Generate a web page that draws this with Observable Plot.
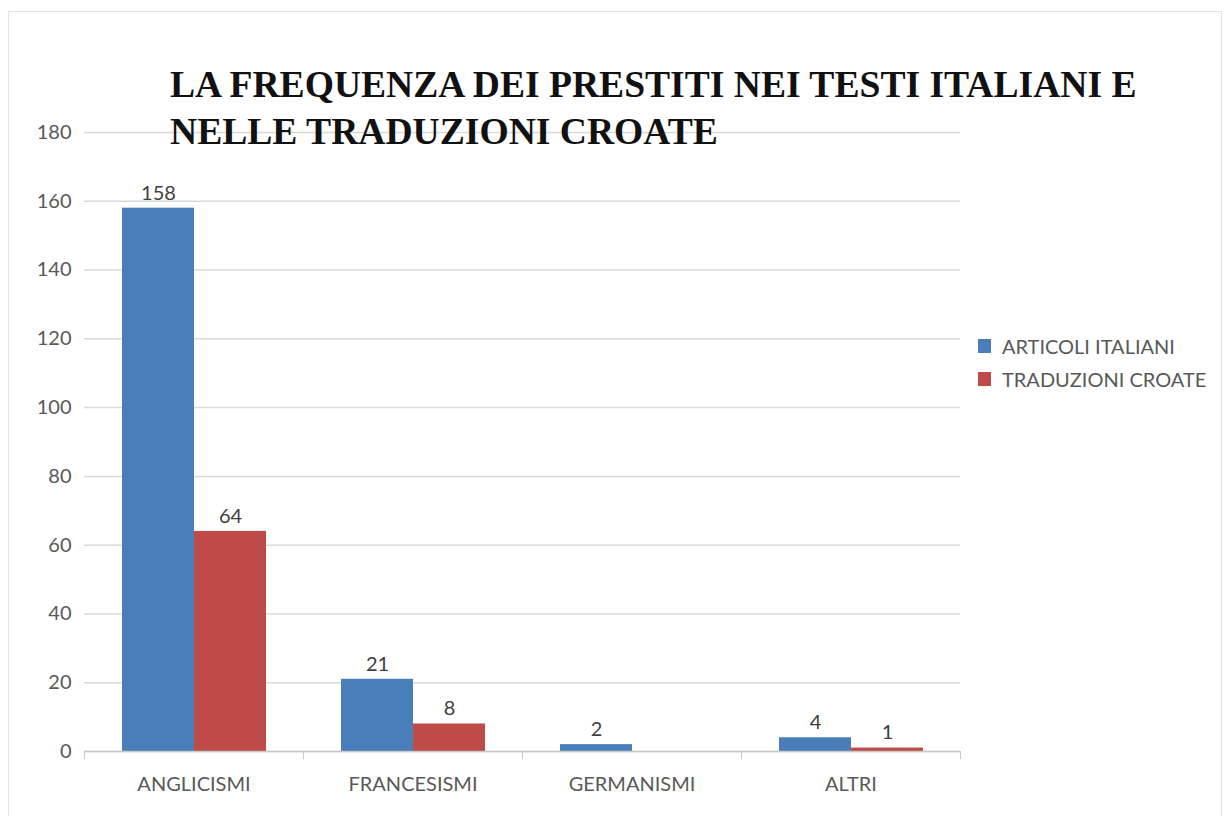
<!DOCTYPE html>
<html>
<head>
<meta charset="utf-8">
<script src="https://cdn.jsdelivr.net/npm/d3@7"></script>
<script src="https://cdn.jsdelivr.net/npm/@observablehq/plot@0.6"></script>
<style>
  html, body { margin: 0; padding: 0; background: #fff; }
  #wrap { position: relative; width: 1232px; height: 816px; overflow: hidden; }
  #border { position: absolute; left: 8px; top: 11px; width: 1214px; height: 820px; border: 1px solid #e3e3e3; box-sizing: border-box; }
  #chart { position: absolute; left: 0; top: 0; }
  #title { position: absolute; left: 170px; top: 61px; font-family: "Liberation Serif", serif; font-weight: bold; font-size: 37.6px; line-height: 47px; color: #111; white-space: nowrap; }
  #legend { position: absolute; left: 978px; top: 329px; font-family: Lato, sans-serif; font-size: 20px; color: #595959; }
  .item { display: flex; align-items: center; height: 33px; }
  .sw { width: 13px; height: 14px; margin-right: 11px; }
</style>
</head>
<body>
<div id="wrap">
  <div id="border"></div>
  <div id="chart"></div>
  <div id="title"></div>
  <div id="legend"></div>
</div>
<script>
const titleLines = ["LA FREQUENZA DEI PRESTITI NEI TESTI ITALIANI E", "NELLE TRADUZIONI CROATE"];
const categories = ["ANGLICISMI", "FRANCESISMI", "GERMANISMI", "ALTRI"];
const series = ["ARTICOLI ITALIANI", "TRADUZIONI CROATE"];
const articoliItaliani = [158, 21, 2, 4];
const traduzioniCroate = [64, 8, 0, 1];
const seriesColors = ["#4a7ebb", "#be4b48"];
const yTicks = [0, 20, 40, 60, 80, 100, 120, 140, 160, 180];

const data = [];
categories.forEach((c, i) => {
  data.push({category: c, series: series[0], value: articoliItaliani[i]});
  data.push({category: c, series: series[1], value: traduzioniCroate[i]});
});

const chart = Plot.plot({
  width: 1232,
  height: 816,
  marginLeft: 83,
  marginRight: 272,
  marginTop: 132,
  marginBottom: 65,
  style: {fontFamily: "Lato, sans-serif", fontSize: "20px", color: "#595959", background: "transparent"},
  fx: {domain: categories, padding: 0, label: null},
  x: {domain: series, paddingInner: 0, paddingOuter: 0.52, axis: null},
  y: {domain: [0, 180], axis: null},
  color: {domain: series, range: seriesColors},
  marks: [
    Plot.gridY(yTicks, {stroke: "#d9d9d9", strokeOpacity: 1, strokeWidth: 1.5}),
    Plot.axisY(yTicks, {tickSize: 0, tickPadding: 13, label: null, fill: "#595959", fontSize: 20}),
    Plot.barY(data, {fx: "category", x: "series", y: "value", fill: "series"}),
    Plot.ruleY([0], {stroke: "#c8c8c8", strokeWidth: 1.5}),
    Plot.frame({anchor: "left", stroke: "#c8c8c8", insetTop: 619, insetBottom: -7}),
    Plot.frame({anchor: "right", stroke: "#c8c8c8", insetTop: 619, insetBottom: -7}),
    Plot.text(data.filter(d => d.value > 0), {fx: "category", x: "series", y: "value", text: d => String(d.value), dy: -15, fill: "#404040", fontSize: 20}),
    Plot.axisFx({anchor: "bottom", tickSize: 0, tickPadding: 25, label: null, fill: "#595959", fontSize: 20})
  ]
});
document.getElementById("chart").appendChild(chart);

document.getElementById("title").innerHTML = titleLines.join("<br>");
const legend = document.getElementById("legend");
series.forEach((s, i) => {
  const item = document.createElement("div");
  item.className = "item";
  const sw = document.createElement("div");
  sw.className = "sw";
  sw.style.background = seriesColors[i];
  const label = document.createElement("span");
  label.textContent = s;
  item.appendChild(sw);
  item.appendChild(label);
  legend.appendChild(item);
});
</script>
</body>
</html>
